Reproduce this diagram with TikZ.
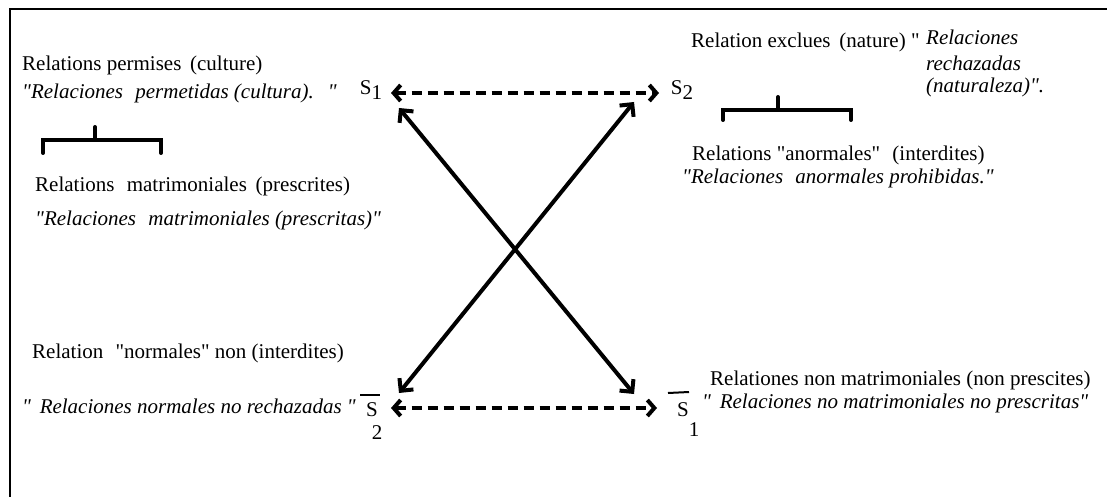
\documentclass[tikz,border=0pt]{standalone}
\usepackage{fontspec}
\setmainfont{Liberation Serif}
\usetikzlibrary{arrows.meta}
\newcommand{\qd}{\textquotedbl}
\begin{document}
\begin{tikzpicture}[x=1pt,y=-1pt,
  lbl/.style={anchor=west,inner sep=0pt,font=\fontsize{21}{24}\selectfont},
  itl/.style={anchor=west,inner sep=0pt,font=\fontsize{21}{24}\selectfont\itshape},
  sym/.style={inner sep=0pt,font=\fontsize{21}{24}\selectfont},
  frame/.style={line width=2.4pt},
  brace/.style={line width=4pt,line cap=round},
  solidarrow/.style={line width=4pt,{Straight Barb[length=9pt,width=18pt]}-{Straight Barb[length=9pt,width=18pt]}},
  dasharrow/.style={line width=4pt,dash pattern=on 10pt off 6pt,{Straight Barb[length=7pt,width=16pt]}-{Straight Barb[length=7pt,width=16pt]}}
]
\useasboundingbox (0,0) rectangle (1107,497);
\draw[frame] (10,497) -- (10,9) -- (1107,9);

% top-left texts
\node[lbl] (tl1) at (22,65) {Relations permises\, (culture)};
\node[itl] (tl2) at (22,93) {\qd Relaciones\,\, permetidas (cultura).\,\, \qd};
\node[lbl] (tl3) at (35,186) {Relations\,\, matrimoniales\, (prescrites)};
\node[itl] (tl4) at (35,220) {\qd Relaciones\,\, matrimoniales (prescritas)\qd};
\draw[brace] (43,153) -- (43,140) -- (161,140) -- (161,153);
\draw[brace] (95,140) -- (95,127);

% top-right texts
\node[lbl] (tr1) at (691,42) {Relation exclues\, (nature) \qd};
\node[itl] (tr2) at (926,37) {Relaciones};
\node[itl] (tr3) at (926,63) {rechazadas};
\node[itl] (tr4) at (926,87) {(naturaleza)\qd.};
\draw[brace] (723,120) -- (723,110) -- (851,110) -- (851,120);
\draw[brace] (778,110) -- (778,97);
\node[lbl] (tr5) at (692,155) {Relations \qd anormales\qd\,\, (interdites)};
\node[itl] (tr6) at (682,178) {\qd Relaciones\,\, anormales prohibidas.\qd};

% bottom-left texts
\node[lbl] (bl1) at (32,353) {Relation\,\, \qd normales\qd\ non (interdites)};
\node[itl] (bl2) at (22,406) {\qd\, Relaciones normales no rechazadas \qd};

% bottom-right texts
\node[lbl] (br1) at (710,380) {Relationes non matrimoniales (non prescites)};
\node[itl] (br2) at (702,403) {\qd\, Relaciones no matrimoniales no prescritas\qd};

% symbol nodes
\node[sym] (s1top) at (371,90) {S\raisebox{-0.5ex}{1}};
\node[sym] (s2top) at (682,90) {S\raisebox{-0.5ex}{2}};
\node[sym] (s2bot) at (372,410) {S};
\node[sym] (n2bot) at (377,433) {2};
\node[sym] (s1bot) at (683,410) {S};
\node[sym] (n1bot) at (694,430) {1};
\draw[line width=2pt] (360,395) -- (380,395);
\draw[line width=2pt] (668,393) -- (689,392);

% arrow end points
\coordinate (a1) at (391,93);
\coordinate (a2) at (659,93);
\coordinate (b1) at (391,408);
\coordinate (b2) at (657,408);
\coordinate (c1) at (399,108);
\coordinate (c2) at (634,394);
\coordinate (d1) at (634,102);
\coordinate (d2) at (399,393);

\draw[dasharrow] (a1) -- (a2);
\draw[dasharrow] (b1) -- (b2);
\draw[solidarrow] (c1) -- (c2);
\draw[solidarrow] (d1) -- (d2);
\end{tikzpicture}
\end{document}
